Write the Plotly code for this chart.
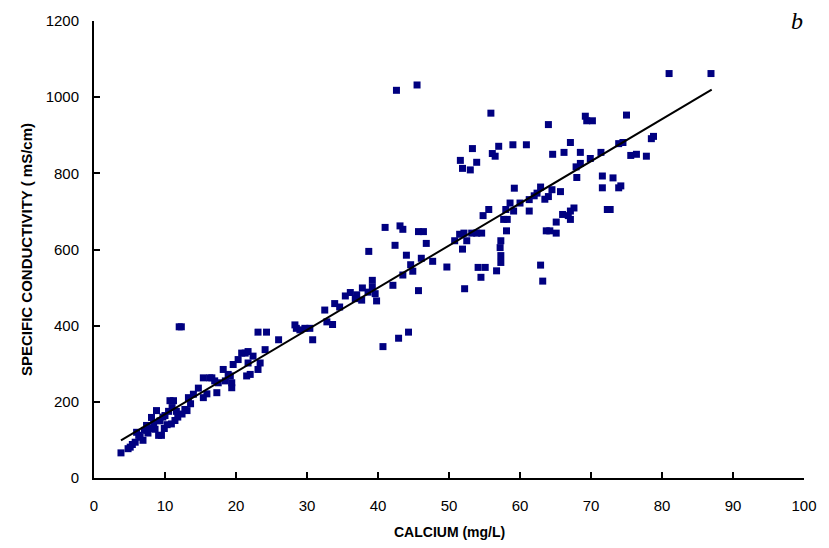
import plotly.graph_objects as go

# Calcium (mg/L) and specific conductivity
calcium = [
    3.8, 4.8, 5.1, 5.4, 5.8, 6.0, 6.3, 6.5, 6.9, 7.1, 7.4, 7.8, 8.1, 8.4, 8.8, 9.1, 9.5, 9.3, 9.7, 10.0,
    10.3, 10.7, 11.2, 10.9, 11.4, 11.0, 11.6, 12.0, 12.3, 12.4, 12.8, 13.1, 13.3, 13.6, 14.0, 14.7, 15.4,
    15.4, 15.9, 16.3, 16.6, 17.0, 17.3, 17.5, 18.2, 18.5, 18.9, 19.2, 19.4, 19.4, 19.6, 20.3, 20.8, 21.3,
    21.7, 21.5, 21.7, 22.0, 22.4, 23.1, 23.4, 24.1, 23.1, 24.3, 26.0, 28.3, 28.5, 29.0, 29.7, 30.4, 30.8,
    7.6, 8.6, 9.9, 10.5, 11.8,
    32.5, 32.8, 33.6, 33.9, 34.6, 35.4, 36.1, 36.8, 37.0, 37.7, 37.8, 38.6, 39.2, 39.2, 39.6, 39.8, 38.7,
    41.0, 40.7, 42.1, 42.4, 42.9, 43.1, 43.5, 44.0, 44.3, 44.6, 44.9, 43.5, 45.7, 45.7, 46.4, 46.1, 46.8,
    47.7, 49.7, 50.8, 51.5, 51.9, 52.5, 52.2, 52.1, 53.2, 53.9, 54.6, 54.1, 55.1, 54.5, 42.6, 45.5,
    51.6, 51.9, 53.0, 53.3, 53.9, 54.8, 55.6, 55.9, 56.1, 56.5, 57.0, 56.7, 57.3, 57.2, 57.3, 57.3, 57.7,
    58.2, 58.0, 58.1, 58.6, 59.0, 59.2, 59.1, 60.0, 60.9, 61.3, 61.3, 62.0, 62.4, 62.9, 62.9, 63.2, 63.5,
    63.7, 64.0, 64.0, 64.2, 64.5, 64.6, 65.1, 65.1, 65.7, 66.0, 66.2, 67.1, 67.1, 67.1, 66.8, 67.6, 67.9,
    68.0, 68.5, 68.5, 69.2, 69.4, 70.2, 69.9, 71.4,
    81.0, 86.9, 75.0, 73.9, 74.5, 75.6, 76.4, 77.8, 78.5, 78.8, 71.6, 73.1, 71.6, 73.9, 74.2, 72.3, 72.7,
]
conductivity = [
    66, 77, 81, 88, 94, 120, 112, 107, 99, 125, 138, 130, 159, 145, 177, 112, 112, 150, 160, 164,
    140, 203, 203, 142, 151, 185, 175, 397, 397, 168, 180, 177, 211, 195, 220, 236, 211,
    263, 221, 263, 263, 255, 224, 250, 285, 255, 272, 268, 250, 237, 298, 311, 328, 328,
    332, 268, 302, 272, 320, 285, 302, 337, 383, 383, 363, 402, 393, 389, 393, 393, 363,
    118, 128, 130, 175, 160,
    441, 410, 403, 458, 449, 478, 487, 471, 481, 467, 499, 488, 519, 501, 484, 465, 595,
    658, 345, 506, 611, 367, 662, 653, 585, 383, 560, 543, 533, 492, 647, 647, 577, 616,
    569, 554, 623, 640, 601, 623, 497, 643, 643, 643, 643, 553, 553, 527, 1018, 1032,
    834, 813, 809, 865, 829, 689, 705, 958, 852, 845, 871, 544, 623, 605, 584, 566, 679,
    679, 705, 649, 722, 875, 761, 701, 722, 875, 731, 701, 741, 748, 764, 559, 517, 732,
    649, 928, 739, 649, 757, 850, 672, 643, 752, 692, 855, 881, 701, 679, 689, 709, 817,
    789, 855, 826, 950, 938, 938, 839, 855,
    1062, 1062, 953, 878, 881, 847, 850, 845, 891, 897, 793, 788, 762, 762, 767, 705, 705,
]

# Regression line end points
fit_x = [3.8, 87.0]
fit_y = [99, 1020]

x_ticks = list(range(0, 101, 10))
y_ticks = list(range(0, 1201, 200))

fig = go.Figure()
fig.add_trace(go.Scatter(
    x=calcium, y=conductivity, mode="markers",
    marker=dict(symbol="square", size=7, color="#000080", line=dict(width=0)),
    showlegend=False, hoverinfo="x+y",
))
fig.add_trace(go.Scatter(
    x=fit_x, y=fit_y, mode="lines",
    line=dict(color="black", width=2), showlegend=False,
))

axis_font = dict(family="Liberation Sans, Arial, sans-serif", size=15, color="#000")
title_font = dict(family="Liberation Sans, Arial, sans-serif", size=14, color="#000")

fig.update_layout(
    width=829, height=548,
    margin=dict(l=94, r=25, t=16, b=70),
    paper_bgcolor="white", plot_bgcolor="white",
    font=axis_font,
    xaxis=dict(
        range=[0, 100], tickvals=x_ticks, ticktext=[str(v) for v in x_ticks],
        showgrid=False, zeroline=False, showline=True, linecolor="black", linewidth=2,
        ticks="inside", ticklen=6, tickwidth=2, tickcolor="black",
        ticklabelstandoff=13, tickfont=axis_font,
    ),
    yaxis=dict(
        range=[0, 1200], tickvals=y_ticks, ticktext=[str(v) for v in y_ticks],
        showgrid=False, zeroline=False, showline=True, linecolor="black", linewidth=2,
        ticks="inside", ticklen=6, tickwidth=2, tickcolor="black",
        ticklabelstandoff=10, tickfont=axis_font,
    ),
    annotations=[
        dict(text="<b>CALCIUM (mg/L)</b>", xref="paper", yref="paper",
             x=0.5, y=-0.118, xanchor="center", yanchor="middle", showarrow=False,
             font=title_font),
        dict(text="<b>SPECIFIC CONDUCTIVITY ( mS/cm)</b>", xref="paper", yref="paper",
             x=-0.095, y=0.5, xanchor="center", yanchor="middle", textangle=-90, showarrow=False,
             font=dict(family="Liberation Sans, Arial, sans-serif", size=15, color="#000")),
        dict(text="<i>b</i>", xref="paper", yref="paper",
             x=0.99, y=1.0, xanchor="center", yanchor="middle", showarrow=False,
             font=dict(family="Liberation Serif, Times New Roman, serif", size=24, color="#000")),
    ],
)

fig.write_html("out.html")
